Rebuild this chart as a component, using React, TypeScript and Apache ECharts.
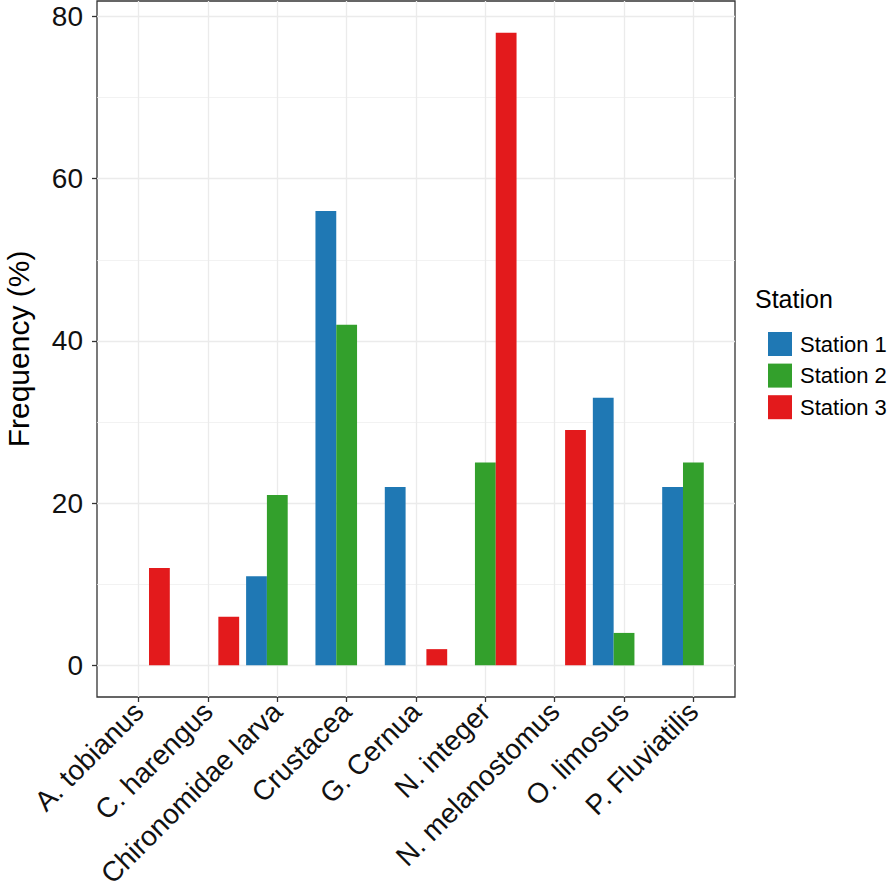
import React, { useEffect, useRef } from "react";
import * as echarts from "echarts";

const categories = [
  "A. tobianus",
  "C. harengus",
  "Chironomidae larva",
  "Crustacea",
  "G. Cernua",
  "N. integer",
  "N. melanostomus",
  "O. limosus",
  "P. Fluviatilis",
];
const stations = ["Station 1", "Station 2", "Station 3"];
const station1 = [0, 0, 11, 56, 22, 0, 0, 33, 22];
const station2 = [0, 0, 21, 42, 0, 25, 0, 4, 25];
const station3 = [12, 6, 0, 0, 2, 78, 29, 0, 0];
const colors = ["#1F78B4", "#33A02C", "#E31A1C"];
const yMajorTicks = [0, 20, 40, 60, 80];
const yMinorTicks = [10, 30, 50, 70];
const xTicks = [1, 2, 3, 4, 5, 6, 7, 8, 9];

const FONT = "'Liberation Sans', Arial, Helvetica, sans-serif";

export default function App() {
  const ref = useRef<HTMLDivElement>(null);
  useEffect(() => {
    if (!ref.current) return;
    const chart = echarts.init(ref.current, undefined, { renderer: "svg" });
    const seriesData = [station1, station2, station3];
    const option: any = {
      animation: false,
      backgroundColor: "#ffffff",
      textStyle: { fontFamily: FONT },
      grid: {
        left: 97,
        right: 161,
        top: 1,
        bottom: 190,
        show: true,
        borderColor: "#333333",
        borderWidth: 1.3,
        backgroundColor: "#ffffff",
        containLabel: false,
        outerBoundsMode: "none",
      },
      legend: {
        orient: "vertical",
        left: 763,
        top: 327,
        itemWidth: 24,
        itemHeight: 24,
        itemGap: 7.6,
        icon: "rect",
        data: stations,
        textStyle: {
          fontFamily: FONT,
          fontSize: 22,
          color: "#000000",
          padding: [0, 0, 0, 3],
        },
      },
      graphic: [
        {
          type: "text",
          left: 755,
          top: 286,
          style: {
            text: "Station",
            fontFamily: FONT,
            fontSize: 25,
            fill: "#000000",
          },
        },
      ],
      xAxis: {
        type: "value",
        min: 0.4,
        max: 9.6,
        axisLine: { show: false, onZero: false },
        axisTick: {
          show: true,
          customValues: xTicks,
          length: 5,
          lineStyle: { color: "#333333", width: 1.3 },
        },
        axisLabel: {
          customValues: xTicks,
          formatter: (v: number) => categories[Math.round(v) - 1] ?? "",
          rotate: 45,
          margin: 10,
          fontFamily: FONT,
          fontSize: 28,
          color: "#111111",
        },
        splitLine: { show: true, lineStyle: { color: "#EBEBEB", width: 1.3 } },
      },
      yAxis: [
        {
          type: "value",
          min: -3.9,
          max: 81.9,
          name: "Frequency (%)",
          nameLocation: "middle",
          nameGap: 64,
          nameRotate: 90,
          nameTextStyle: { fontFamily: FONT, fontSize: 30, color: "#000000" },
          axisLine: { show: false, onZero: false },
          axisTick: {
            show: true,
            customValues: yMajorTicks,
            length: 5,
            lineStyle: { color: "#333333", width: 1.3 },
          },
          axisLabel: {
            customValues: yMajorTicks,
            margin: 14,
            fontFamily: FONT,
            fontSize: 28,
            color: "#111111",
          },
          splitLine: { show: true, lineStyle: { color: "#EBEBEB", width: 1.3 } },
        },
        {
          type: "value",
          min: -3.9,
          max: 81.9,
          position: "left",
          axisLine: { show: false, onZero: false },
          axisTick: { show: false, customValues: yMinorTicks },
          axisLabel: { show: false, customValues: yMinorTicks },
          splitLine: { show: true, lineStyle: { color: "#EFEFEF", width: 0.8 } },
        },
      ],
      series: stations.map((name, si) => ({
        name,
        type: "bar",
        xAxisIndex: 0,
        yAxisIndex: 0,
        barWidth: 20.8,
        barGap: "0%",
        itemStyle: { color: colors[si] },
        data: seriesData[si].map((v, i) => [i + 1, v]),
      })),
    };
    chart.setOption(option);
    return () => chart.dispose();
  }, []);
  return (
    <div
      ref={ref}
      style={{ position: "fixed", left: 0, top: 0, width: 896, height: 887 }}
    />
  );
}
